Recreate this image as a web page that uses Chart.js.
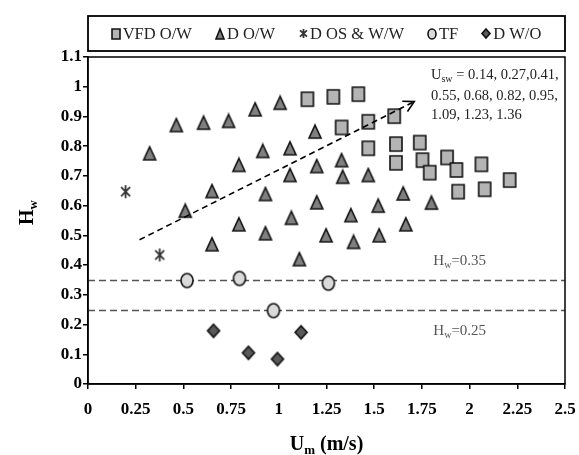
<!DOCTYPE html>
<html>
<head>
<meta charset="utf-8">
<script src="https://cdn.jsdelivr.net/npm/chart.js@4.4.1/dist/chart.umd.min.js"></script>
<style>
  html, body { margin: 0; padding: 0; background: #fff; }
  #wrap { width: 579px; height: 455px; }
</style>
</head>
<body>
<div id="wrap"><canvas id="chart" width="579" height="455"></canvas></div>
<script>
// Données : U_m (m/s) et H_w par régime d'écoulement
const vfdU = [1.15, 1.286, 1.417, 1.329, 1.469, 1.605, 1.469, 1.614, 1.739, 1.614, 1.753, 1.791, 1.882, 1.931, 2.062, 1.94, 2.079, 2.21];
const vfdH = [0.958, 0.966, 0.975, 0.863, 0.882, 0.901, 0.793, 0.807, 0.812, 0.744, 0.753, 0.711, 0.762, 0.72, 0.739, 0.647, 0.655, 0.686];

const dowU = [0.323, 0.463, 0.606, 0.737, 0.876, 1.007, 1.19, 0.916, 1.059, 0.791, 1.199, 1.059, 0.65, 0.93, 0.51, 1.199,
  0.791, 1.066, 0.65, 0.93, 1.248, 1.108, 1.329, 1.335, 1.469, 1.652, 1.8, 1.378, 1.521, 1.666, 1.392, 1.526];
const dowH = [0.776, 0.871, 0.879, 0.885, 0.924, 0.946, 0.849, 0.784, 0.793, 0.737, 0.733, 0.703, 0.649, 0.639, 0.583, 0.611,
  0.537, 0.559, 0.47, 0.507, 0.5, 0.42, 0.753, 0.697, 0.703, 0.641, 0.61, 0.568, 0.6, 0.537, 0.478, 0.5];

const dosU = [0.197, 0.376];
const dosH = [0.647, 0.434];

const tfU = [0.519, 0.794, 1.26, 0.972];
const tfH = [0.348, 0.355, 0.339, 0.247];

const dwoU = [0.658, 0.841, 0.993, 1.117];
const dwoH = [0.179, 0.105, 0.084, 0.174];

const seriesLabels = ['VFD O/W', 'D O/W', 'D OS & W/W', 'TF', 'D W/O'];
const hwLevels = [0.35, 0.25];
const hwLabelU = 1.81;
const arrowFrom = [0.27, 0.485];
const arrowTo = [1.71, 0.95];
const uswLines = ['= 0.14, 0.27,0.41,', '0.55, 0.68, 0.82, 0.95,', '1.09, 1.23, 1.36'];

const SERIF = '"Liberation Serif", "Times New Roman", serif';

function toPoints(xs, ys) {
  return xs.map((x, i) => ({ x, y: ys[i] }));
}

// Marqueurs dessinés sur un petit canvas (utilisé comme pointStyle)
function makeMarker(kind, w, h, fill, stroke) {
  const pad = 2;
  const c = document.createElement('canvas');
  c.width = w + pad * 2;
  c.height = h + pad * 2;
  const g = c.getContext('2d');
  const x0 = pad, y0 = pad, cx = pad + w / 2, cy = pad + h / 2;
  g.lineWidth = 1.6;
  g.strokeStyle = stroke;
  g.fillStyle = fill;
  g.beginPath();
  if (kind === 'rect') {
    g.rect(x0, y0, w, h);
  } else if (kind === 'triangle') {
    g.moveTo(cx, y0); g.lineTo(x0 + w, y0 + h); g.lineTo(x0, y0 + h); g.closePath();
  } else if (kind === 'ellipse') {
    g.ellipse(cx, cy, w / 2, h / 2, 0, 0, Math.PI * 2);
  } else if (kind === 'diamond') {
    g.moveTo(cx, y0); g.lineTo(x0 + w, cy); g.lineTo(cx, y0 + h); g.lineTo(x0, cy); g.closePath();
  } else if (kind === 'star') {
    g.lineWidth = 1.8;
    g.moveTo(cx, y0); g.lineTo(cx, y0 + h);
    g.moveTo(x0, y0 + h * 0.15); g.lineTo(x0 + w, y0 + h * 0.85);
    g.moveTo(x0 + w, y0 + h * 0.15); g.lineTo(x0, y0 + h * 0.85);
    g.stroke();
    return c;
  }
  g.fill();
  g.stroke();
  return c;
}

const STYLES = [
  ['rect', '#b4b4b4', '#111'],
  ['triangle', '#808080', '#111'],
  ['star', 'none', '#333'],
  ['ellipse', '#dadada', '#111'],
  ['diamond', '#595959', '#111'],
];
const plotSizes = [[12, 14], [12, 13], [9, 13], [12, 14], [12, 13]];
const legendSizes = [[8, 10], [8, 10], [7, 9], [8, 10], [8, 9]];
const plotMarkers = STYLES.map((s, i) => makeMarker(s[0], plotSizes[i][0], plotSizes[i][1], s[1], s[2]));
const legendMarkers = STYLES.map((s, i) => makeMarker(s[0], legendSizes[i][0], legendSizes[i][1], s[1], s[2]));

const allSeries = [[vfdU, vfdH], [dowU, dowH], [dosU, dosH], [tfU, tfH], [dwoU, dwoH]];

function fmt(v) {
  return String(+Number(v).toFixed(2));
}

// Texte avec indice : base, indice, suite
function drawSub(ctx, x, y, base, sub, rest, size, bold) {
  const w = bold ? 'bold ' : '';
  ctx.font = w + size + 'px ' + SERIF;
  ctx.fillText(base, x, y);
  x += ctx.measureText(base).width;
  ctx.font = w + Math.round(size * 0.66) + 'px ' + SERIF;
  ctx.fillText(sub, x, y + size * 0.22);
  x += ctx.measureText(sub).width;
  ctx.font = w + size + 'px ' + SERIF;
  ctx.fillText(rest, x, y);
  return x + ctx.measureText(rest).width;
}

function subWidth(ctx, base, sub, rest, size, bold) {
  const w = bold ? 'bold ' : '';
  ctx.font = w + size + 'px ' + SERIF;
  let total = ctx.measureText(base).width + ctx.measureText(rest).width;
  ctx.font = w + Math.round(size * 0.66) + 'px ' + SERIF;
  return total + ctx.measureText(sub).width;
}

const decorPlugin = {
  id: 'decor',
  beforeDatasetsDraw(chart) {
    const { ctx, chartArea: a, scales: { x, y } } = chart;
    ctx.save();
    ctx.strokeStyle = '#555';
    ctx.lineWidth = 1.5;
    ctx.setLineDash([7, 4]);
    hwLevels.forEach(h => {
      const py = Math.round(y.getPixelForValue(h)) + 0.5;
      ctx.beginPath();
      ctx.moveTo(a.left, py);
      ctx.lineTo(a.right, py);
      ctx.stroke();
    });
    ctx.setLineDash([]);
    ctx.fillStyle = '#555';
    ctx.textBaseline = 'alphabetic';
    const lx = x.getPixelForValue(hwLabelU);
    drawSub(ctx, lx, y.getPixelForValue(hwLevels[0]) - 15, 'H', 'w', '=0.35', 15, false);
    drawSub(ctx, lx, y.getPixelForValue(hwLevels[1]) + 25, 'H', 'w', '=0.25', 15, false);
    ctx.restore();
  },
  afterDatasetsDraw(chart) {
    const { ctx, scales: { x, y } } = chart;
    const x1 = x.getPixelForValue(arrowFrom[0]), y1 = y.getPixelForValue(arrowFrom[1]);
    const x2 = x.getPixelForValue(arrowTo[0]), y2 = y.getPixelForValue(arrowTo[1]);
    const ang = Math.atan2(y2 - y1, x2 - x1);
    ctx.save();
    ctx.strokeStyle = '#000';
    ctx.lineWidth = 1.6;
    ctx.setLineDash([6, 4]);
    ctx.beginPath();
    ctx.moveTo(x1, y1);
    ctx.lineTo(x2 - 2 * Math.cos(ang), y2 - 2 * Math.sin(ang));
    ctx.stroke();
    ctx.setLineDash([]);
    ctx.beginPath();
    const hl = 12;
    ctx.moveTo(x2 - hl * Math.cos(ang - 0.5), y2 - hl * Math.sin(ang - 0.5));
    ctx.lineTo(x2, y2);
    ctx.lineTo(x2 - hl * Math.cos(ang + 0.5), y2 - hl * Math.sin(ang + 0.5));
    ctx.stroke();

    // Annotation U_sw
    ctx.fillStyle = '#222';
    ctx.textBaseline = 'alphabetic';
    const tx = 431;
    drawSub(ctx, tx, 79, 'U', 'sw', ' ' + uswLines[0], 14.5, false);
    ctx.font = '14.5px ' + SERIF;
    ctx.fillText(uswLines[1], tx, 100);
    ctx.fillText(uswLines[2], tx, 119);
    ctx.restore();
  },
  afterDraw(chart) {
    const { ctx, chartArea: a } = chart;
    ctx.save();
    // cadre du graphique
    ctx.strokeStyle = '#000';
    ctx.lineWidth = 1.5;
    ctx.strokeRect(a.left, a.top, a.right - a.left, a.bottom - a.top);

    // légende encadrée
    const boxTop = 16, boxBottom = 51;
    ctx.lineWidth = 1.8;
    ctx.strokeRect(a.left, boxTop, a.right - a.left, boxBottom - boxTop);
    ctx.font = '16.5px ' + SERIF;
    const labels = chart.data.datasets.map(d => d.label);
    const widths = labels.map(l => ctx.measureText(l).width);
    const gapText = 7, gapItem = 28;
    let total = 4;
    widths.forEach((w, i) => { total += gapText + w + (i < widths.length - 1 ? gapItem : 0); });
    let cx = (a.left + a.right) / 2 - total / 2 + 4;
    const cy = (boxTop + boxBottom) / 2;
    ctx.fillStyle = '#222';
    ctx.textBaseline = 'middle';
    labels.forEach((l, i) => {
      const m = legendMarkers[i];
      ctx.drawImage(m, Math.round(cx - m.width / 2), Math.round(cy - m.height / 2));
      ctx.fillText(l, cx + gapText, cy + 1);
      cx += gapText + widths[i] + gapItem;
    });

    // titres des axes
    ctx.fillStyle = '#000';
    ctx.textBaseline = 'alphabetic';
    const xw = subWidth(ctx, 'U', 'm', ' (m/s)', 20, true);
    drawSub(ctx, (a.left + a.right) / 2 - xw / 2, 450, 'U', 'm', ' (m/s)', 20, true);
    const yw = subWidth(ctx, 'H', 'w', '', 20, true);
    ctx.translate(33, (a.top + a.bottom) / 2 + yw / 2 - 8);
    ctx.rotate(-Math.PI / 2);
    drawSub(ctx, 0, 0, 'H', 'w', '', 20, true);
    ctx.restore();
  }
};

const tickFont = { family: SERIF, size: 17, weight: 'bold' };

new Chart(document.getElementById('chart'), {
  type: 'scatter',
  data: {
    datasets: allSeries.map((s, i) => ({
      label: seriesLabels[i],
      data: toPoints(s[0], s[1]),
      pointStyle: plotMarkers[i],
      pointRadius: 6,
      pointHoverRadius: 6,
    })),
  },
  options: {
    responsive: false,
    animation: false,
    devicePixelRatio: 1,
    layout: { padding: { left: 0, right: 14, top: 57, bottom: 0 } },
    plugins: {
      legend: { display: false },
      tooltip: { enabled: false },
    },
    scales: {
      x: {
        type: 'linear',
        min: 0,
        max: 2.5,
        afterFit(scale) {
          scale.height = 71;
          scale.paddingLeft = 0;
          scale.paddingRight = 0;
        },
        ticks: { stepSize: 0.25, padding: 10, font: tickFont, color: '#000', callback: fmt, maxRotation: 0, autoSkip: false },
        grid: { display: true, drawOnChartArea: false, drawTicks: true, tickLength: 5, color: '#000', lineWidth: 1.5 },
        border: { display: true, color: '#000', width: 1.5 },
      },
      y: {
        type: 'linear',
        min: 0,
        max: 1.1,
        afterFit(scale) {
          scale.width = 88;
          scale.paddingTop = 0;
          scale.paddingBottom = 0;
        },
        ticks: { stepSize: 0.1, padding: 1, font: tickFont, color: '#000', callback: fmt, autoSkip: false },
        grid: { display: true, drawOnChartArea: false, drawTicks: true, tickLength: 5, color: '#000', lineWidth: 1.5 },
        border: { display: true, color: '#000', width: 1.5 },
      },
    },
  },
  plugins: [decorPlugin],
});
</script>
</body>
</html>
